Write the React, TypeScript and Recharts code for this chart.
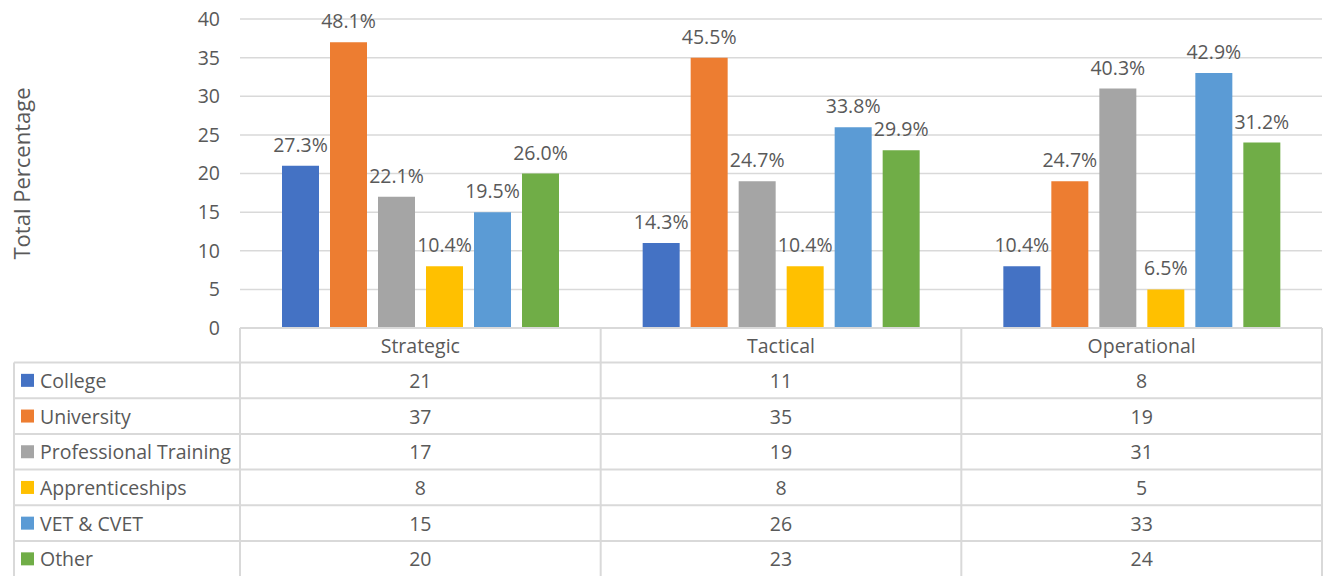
import React from 'react';
import { BarChart, Bar, XAxis, YAxis, CartesianGrid, LabelList, Customized } from 'recharts';

const categories = ['Strategic', 'Tactical', 'Operational'];
const seriesNames = ['College', 'University', 'Professional Training', 'Apprenticeships', 'VET & CVET', 'Other'];
const seriesKeys = ['college', 'university', 'professional', 'apprenticeships', 'vet', 'other'];
const seriesColors = ['#4472C4', '#ED7D31', '#A5A5A5', '#FFC000', '#5B9BD5', '#70AD47'];

const college = [21, 11, 8];
const university = [37, 35, 19];
const professional = [17, 19, 31];
const apprenticeships = [8, 8, 5];
const vet = [15, 26, 33];
const other = [20, 23, 24];

const collegeLabels = ['27.3%', '14.3%', '10.4%'];
const universityLabels = ['48.1%', '45.5%', '24.7%'];
const professionalLabels = ['22.1%', '24.7%', '40.3%'];
const apprenticeshipsLabels = ['10.4%', '10.4%', '6.5%'];
const vetLabels = ['19.5%', '33.8%', '42.9%'];
const otherLabels = ['26.0%', '29.9%', '31.2%'];

const yTicks = [0, 5, 10, 15, 20, 25, 30, 35, 40];

const seriesValues = [college, university, professional, apprenticeships, vet, other];
const seriesLabels = [collegeLabels, universityLabels, professionalLabels, apprenticeshipsLabels, vetLabels, otherLabels];

const data = categories.map((cat, i) => {
  const row: any = { cat };
  seriesKeys.forEach((k, s) => {
    row[k] = seriesValues[s][i];
    row[k + 'Label'] = seriesLabels[s][i];
  });
  return row;
});

const W = 1323;
const H = 576;
const TOP = 19;
const YAXIS_W = 240;
const RIGHT = 1;
const XAXIS_H = 248;
const PLOT_BOTTOM = H - XAXIS_H;
const BAND = (W - YAXIS_W - RIGHT) / categories.length;
const HEADER_BOTTOM = 362.5;
const ROW_H = 35.7;
const TABLE_LEFT = 14;
const TEXT = '#595959';
const BORDER = '#D9D9D9';
const FONT = "'Open Sans', sans-serif";
const FS = 19.5;
const FS_LABEL = 19.5;
const FS_TITLE = 22;

const TableTick = (props: any) => {
  const { x, payload, index } = props;
  const idx = payload?.index ?? index;
  return (
    <g>
      <line x1={x - BAND / 2} y1={PLOT_BOTTOM} x2={x - BAND / 2} y2={H + 2} stroke={BORDER} strokeWidth={2} />
      <text x={x} y={(PLOT_BOTTOM + HEADER_BOTTOM) / 2} textAnchor="middle" dominantBaseline="central" fill={TEXT} fontSize={FS} fontFamily={FONT}>
        {payload.value}
      </text>
      {seriesValues.map((vals, s) => (
        <text key={s} x={x} y={HEADER_BOTTOM + ROW_H * s + ROW_H / 2} textAnchor="middle" dominantBaseline="central" fill={TEXT} fontSize={FS} fontFamily={FONT}>
          {vals[idx]}
        </text>
      ))}
    </g>
  );
};

const TableFrame = () => {
  const rows = seriesNames.map((_, s) => HEADER_BOTTOM + ROW_H * s);
  const cy0 = (TOP + PLOT_BOTTOM) / 2;
  return (
    <g>
      <line x1={W - RIGHT} y1={PLOT_BOTTOM} x2={W - RIGHT} y2={H + 2} stroke={BORDER} strokeWidth={2} />
      <line x1={TABLE_LEFT} y1={HEADER_BOTTOM} x2={TABLE_LEFT} y2={H + 2} stroke={BORDER} strokeWidth={2} />
      {rows.map((y, i) => (
        <line key={'r' + i} x1={TABLE_LEFT} y1={y} x2={W - RIGHT} y2={y} stroke={BORDER} strokeWidth={2} />
      ))}
      {seriesNames.map((n, s) => {
        const cy = HEADER_BOTTOM + ROW_H * s + ROW_H / 2;
        return (
          <g key={n}>
            <rect x={21} y={cy - 6.5} width={13} height={13} fill={seriesColors[s]} />
            <text x={40} y={cy} dominantBaseline="central" fill={TEXT} fontSize={FS} fontFamily={FONT}>
              {n}
            </text>
          </g>
        );
      })}
      <text
        x={21}
        y={cy0}
        transform={`rotate(-90 21 ${cy0})`}
        textAnchor="middle"
        dominantBaseline="central"
        fill={TEXT}
        fontSize={FS_TITLE}
        fontFamily={FONT}
      >
        Total Percentage
      </text>
    </g>
  );
};

export default function App() {
  return (
    <div style={{ position: 'absolute', left: 0, top: 0, width: W, height: H, background: '#fff', fontFamily: FONT }}>
      <BarChart
        width={W}
        height={H}
        data={data}
        margin={{ top: TOP, right: RIGHT, bottom: 0, left: 0 }}
        barCategoryGap={42}
        barGap={11}
      >
        <CartesianGrid vertical={false} stroke={BORDER} strokeWidth={1.5} />
        <YAxis
          width={YAXIS_W}
          domain={[0, 40]}
          ticks={yTicks}
          axisLine={false}
          tickLine={false}
          tickSize={0}
          tickMargin={20}
          tick={{ fill: TEXT, fontSize: FS, fontFamily: FONT }}
        />
        <XAxis
          dataKey="cat"
          height={XAXIS_H}
          axisLine={{ stroke: BORDER, strokeWidth: 2 }}
          tickLine={false}
          tickSize={0}
          tickMargin={0}
          interval={0}
          tick={<TableTick />}
        />
        {seriesKeys.map((k, s) => (
          <Bar key={k} dataKey={k} name={seriesNames[s]} fill={seriesColors[s]} isAnimationActive={false}>
            <LabelList dataKey={k + 'Label'} position="top" offset={14} fill={TEXT} fontSize={FS_LABEL} fontFamily={FONT} />
          </Bar>
        ))}
        <Customized component={<TableFrame />} />
      </BarChart>
    </div>
  );
}
